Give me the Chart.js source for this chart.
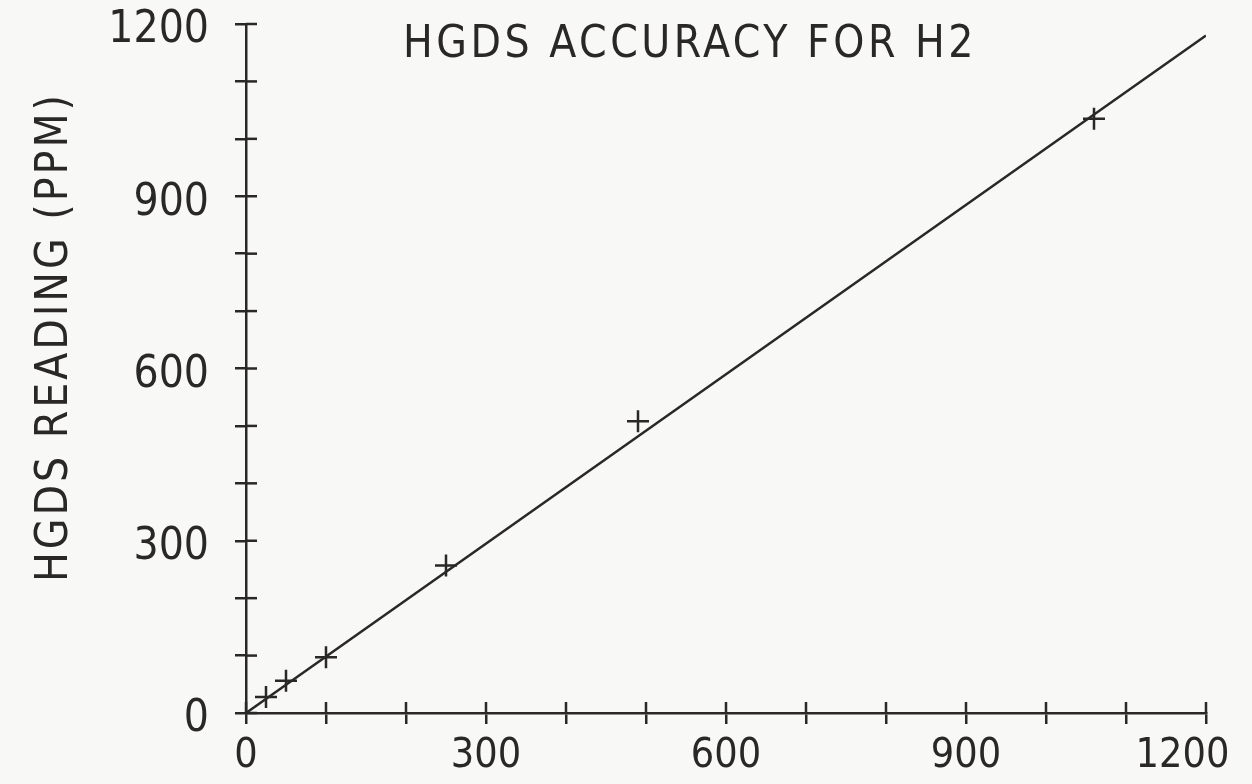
<!DOCTYPE html>
<html>
<head>
<meta charset="utf-8">
<script src="https://cdn.jsdelivr.net/npm/chart.js@4"></script>
<style>
  html, body { margin: 0; padding: 0; background: #f8f8f7; }
  #wrap { width: 1252px; height: 784px; }
</style>
</head>
<body>
<div id="wrap"><canvas id="hgdsChart" width="1252" height="784"></canvas></div>
<script>
// measured points (actual ppm vs HGDS reading)
const actualPpm = [25, 50, 100, 250, 490, 1060];
const hgdsReading = [28, 56, 97, 257, 508, 1035];
// fitted line end points
const fitX = [0, 1200];
const fitY = [0, 1180];
const xTicks = [0, 300, 600, 900, 1200];
const yTicks = [0, 300, 600, 900, 1200];

const INK = '#2a2727';
const FONT = "'DejaVu Sans Condensed', 'DejaVu Sans', sans-serif";

// the plotter draws "+" ticks that cross the axis, so add the inner half here
const crossTicks = {
    id: 'crossTicks',
    afterDraw(chart) {
        const ctx = chart.ctx;
        const xs = chart.scales.x, ys = chart.scales.y;
        ctx.save();
        ctx.strokeStyle = INK;
        ctx.lineWidth = 2.5;
        xs.ticks.forEach(t => {
            const px = xs.getPixelForValue(t.value);
            ctx.beginPath();
            ctx.moveTo(px, ys.bottom);
            ctx.lineTo(px, ys.bottom - 11);
            ctx.stroke();
        });
        ys.ticks.forEach(t => {
            const py = ys.getPixelForValue(t.value);
            ctx.beginPath();
            ctx.moveTo(xs.left, py);
            ctx.lineTo(xs.left + 11, py);
            ctx.stroke();
        });
        // titles
        ctx.fillStyle = INK;
        ctx.textAlign = 'center';
        ctx.textBaseline = 'middle';
        ctx.font = '44px ' + FONT;
        ctx.letterSpacing = '3.5px';
        ctx.fillText('HGDS ACCURACY FOR H2', 690, 46);
        ctx.letterSpacing = '3px';
        ctx.translate(56, 337);
        ctx.rotate(-Math.PI / 2);
        ctx.fillText('HGDS READING (PPM)', 0, 0);
        ctx.restore();
    }
};

// last x label sits left of its tick in the original, pad it with figure spaces
function xLabel(v) {
    if (!xTicks.includes(v)) return '';
    return v === 1200 ? String(v) + '\u2007\u2007' : String(v);
}

new Chart(document.getElementById('hgdsChart'), {
    type: 'scatter',
    data: {
        datasets: [{
            label: 'HGDS reading',
            data: actualPpm.map((x, i) => ({ x: x, y: hgdsReading[i] })),
            pointStyle: 'cross',
            pointRadius: 11,
            pointBorderWidth: 2.5,
            borderColor: INK,
            backgroundColor: INK
        }, {
            type: 'line',
            label: 'fit',
            data: fitX.map((x, i) => ({ x: x, y: fitY[i] })),
            borderColor: INK,
            borderWidth: 2.5,
            pointRadius: 0,
            fill: false
        }]
    },
    options: {
        responsive: false,
        animation: false,
        layout: { padding: { left: 0, right: 46, top: 24, bottom: 0 } },
        plugins: {
            legend: { display: false },
            tooltip: { enabled: false }
        },
        scales: {
            x: {
                type: 'linear',
                min: 0,
                max: 1200,
                afterBuildTicks: s => { s.ticks = [...Array(13).keys()].map(i => ({ value: i * 100 })); },
                afterFit: s => { s.height = 71; s.paddingLeft = 0; s.paddingRight = 0; },
                ticks: {
                    callback: xLabel,
                    autoSkip: false,
                    maxRotation: 0,
                    color: INK,
                    padding: 8,
                    font: { family: FONT, size: 41 }
                },
                grid: { drawOnChartArea: false, tickLength: 11, color: INK, lineWidth: 2.5 },
                border: { display: true, color: INK, width: 2.5 }
            },
            y: {
                type: 'linear',
                min: 0,
                max: 1200,
                afterBuildTicks: s => { s.ticks = [...Array(13).keys()].map(i => ({ value: i * 100 })); },
                afterFit: s => { s.width = 246; s.paddingTop = 0; s.paddingBottom = 0; },
                ticks: {
                    callback: v => yTicks.includes(v) ? String(v) : '',
                    autoSkip: false,
                    color: INK,
                    padding: 26,
                    labelOffset: 7,
                    font: { family: FONT, size: 44 }
                },
                grid: { drawOnChartArea: false, tickLength: 11, color: INK, lineWidth: 2.5 },
                border: { display: true, color: INK, width: 2.5 }
            }
        }
    },
    plugins: [crossTicks]
});
</script>
</body>
</html>
